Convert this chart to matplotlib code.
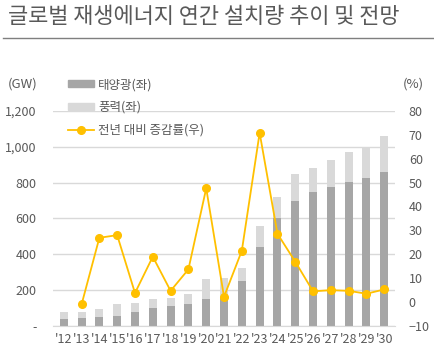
import matplotlib.pyplot as plt
import matplotlib.lines as mlines
import matplotlib.patches as mpatches
import numpy as np

plt.rcParams['font.family'] = ['Noto Sans CJK KR', 'DejaVu Sans']

years = ["'12", "'13", "'14", "'15", "'16", "'17", "'18", "'19", "'20", "'21",
         "'22", "'23", "'24", "'25", "'26", "'27", "'28", "'29", "'30"]
solar = [37, 43, 52, 58, 78, 102, 110, 121, 149, 155,
         251, 443, 602, 698, 750, 778, 803, 828, 858]
total = [78, 77, 97, 121, 128, 153, 156, 181, 264, 270,
         326, 560, 720, 847, 883, 927, 970, 998, 1060]
wind = [t - s for t, s in zip(total, solar)]
growth = [None, -1, 26.9, 28, 3.8, 19, 4.7, 13.7, 47.6, 2.2,
          21.5, 70.8, 28.6, 16.9, 4.5, 5.0, 4.7, 3.5, 5.3]

dark = '#a6a6a6'
light = '#d9d9d9'
gold = '#ffc000'
txt = '#595959'

fig = plt.figure(figsize=(4.35, 3.53), dpi=100)
ax = fig.add_axes([0.122, 0.0765, 0.786, 0.6095])

x = np.arange(len(years))
ax.bar(x, solar, width=0.45, color=dark, zorder=2)
ax.bar(x, wind, width=0.45, bottom=solar, color=light, zorder=2)

ax.set_ylim(0, 1200)
ax.set_yticks(range(0, 1201, 200))
ax.set_yticklabels(['-' if v == 0 else f'{v:,}' for v in range(0, 1201, 200)])
ax.set_xlim(-0.6, len(years) - 0.4)
ax.set_xticks(x)
ax.set_xticklabels(years)
ax.grid(axis='y', color='#d9d9d9', linewidth=1, zorder=0)
ax.set_axisbelow(True)
for s in ['top', 'right', 'left']:
    ax.spines[s].set_visible(False)
ax.spines['bottom'].set_color('#d9d9d9')
ax.tick_params(axis='both', length=0, labelsize=9, colors=txt)
ax.tick_params(axis='y', pad=12)
ax.tick_params(axis='x', pad=5)

ax2 = ax.twinx()
gx = [i for i, g in zip(x, growth) if g is not None]
gy = [g for g in growth if g is not None]
ax2.plot(gx, gy, color=gold, linewidth=1.3, marker='o', markersize=5.5, zorder=3)
ax2.set_ylim(-10, 80)
ax2.set_yticks(range(-10, 81, 10))
for s in ['top', 'right', 'left', 'bottom']:
    ax2.spines[s].set_visible(False)
ax2.tick_params(axis='y', length=0, labelsize=9, colors=txt, pad=10)

# title and units
fig.text(0.018, 0.952, '글로벌 재생에너지 연간 설치량 추이 및 전망', fontsize=15.8,
         color=txt, va='center', ha='left')
fig.add_artist(mlines.Line2D([0.007, 1.0], [0.891, 0.891], color='#7f7f7f', linewidth=1))
fig.text(0.018, 0.762, '(GW)', fontsize=9.5, color=txt, va='center', ha='left')
fig.text(0.95, 0.762, '(%)', fontsize=9.5, color=txt, va='center', ha='center')

handles = [mpatches.Patch(color=dark), mpatches.Patch(color=light),
           mlines.Line2D([], [], color=gold, marker='o', markersize=5.5, linewidth=1.3)]
labels = ['태양광(좌)', '풍력(좌)', '전년 대비 증감률(우)']
leg = fig.legend(handles, labels, loc='upper left', bbox_to_anchor=(0.145, 0.793),
                 frameon=False, fontsize=9, handlelength=2.1, handleheight=0.45,
                 handletextpad=0.3, labelspacing=0.78, borderaxespad=0)
for t in leg.get_texts():
    t.set_color(txt)

fig.savefig('out.png', dpi=100)
